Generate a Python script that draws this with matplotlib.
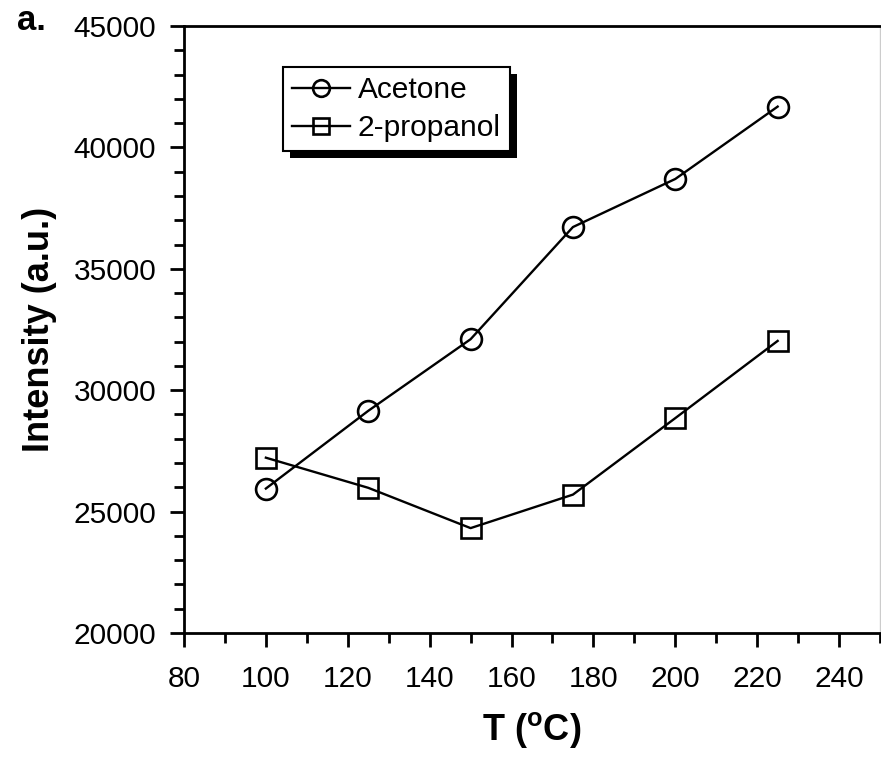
import matplotlib
matplotlib.use("Agg")
import matplotlib.pyplot as plt
from matplotlib.patches import Rectangle
from matplotlib.ticker import MultipleLocator

plt.rcParams['font.family'] = ['Liberation Sans', 'DejaVu Sans']
plt.rcParams['mathtext.fontset'] = 'custom'
plt.rcParams['mathtext.rm'] = 'Liberation Sans'
plt.rcParams['mathtext.bf'] = 'Liberation Sans:bold'

temperature = [100, 125, 150, 175, 200, 225]
acetone = [25950, 29150, 32100, 36720, 38700, 41680]
propanol = [27220, 25980, 24320, 25700, 28850, 32030]

fig = plt.figure(figsize=(8.81, 7.57), dpi=100)
ax = fig.add_axes([184/881, 124/757, 696/881, 607/757])

ax.plot(temperature, acetone, color='black', lw=1.7, marker='o', ms=15,
        mfc='none', mec='black', mew=1.9, label='Acetone')
ax.plot(temperature, propanol, color='black', lw=1.7, marker='s', ms=15,
        mfc='none', mec='black', mew=1.9, label='2-propanol')

ax.set_xlim(80, 250)
ax.set_ylim(20000, 45000)
ax.xaxis.set_major_locator(MultipleLocator(20))
ax.xaxis.set_minor_locator(MultipleLocator(10))
ax.yaxis.set_major_locator(MultipleLocator(5000))
ax.yaxis.set_minor_locator(MultipleLocator(1000))
ax.tick_params(which='major', direction='out', length=10, width=2, labelsize=21.5)
ax.tick_params(which='minor', direction='out', length=7, width=2)
ax.tick_params(axis='x', which='major', pad=13)
ax.tick_params(axis='y', which='major', pad=10)

for s in ['left', 'bottom', 'top']:
    ax.spines[s].set_linewidth(2)
ax.spines['right'].set_color('#cccccc')
ax.spines['right'].set_linewidth(1)

ax.set_xlabel(r'T ($\mathbf{^o}$C)', fontsize=26, fontweight='bold')
ax.set_ylabel('Intensity (a.u.)', fontsize=26, fontweight='bold')
ax.xaxis.set_label_coords(0.5, (633-710)/607)
ax.yaxis.set_label_coords((57-184)/696, 0.5)

leg = ax.legend(loc='upper left', bbox_to_anchor=((283-184)/696, (633-67)/607),
                fontsize=21.5, frameon=True, fancybox=False, shadow=False, framealpha=1,
                handlelength=1.95, handletextpad=0.25, borderpad=0.3, labelspacing=0.35,
                borderaxespad=0, markerscale=0.8)
leg.get_frame().set_edgecolor('black')
leg.get_frame().set_linewidth(1.5)

fig.canvas.draw()
bb = leg.get_frame().get_window_extent(fig.canvas.get_renderer())
shadow = Rectangle((bb.x0 + 7, bb.y0 - 7), bb.width, bb.height, transform=None,
                   facecolor='black', edgecolor='none', zorder=4.9)
ax.add_artist(shadow)

fig.text(17/881, 1 - 30/757, 'a.', fontsize=25, fontweight='bold', va='baseline', ha='left')

fig.savefig('out.png', dpi=100)
